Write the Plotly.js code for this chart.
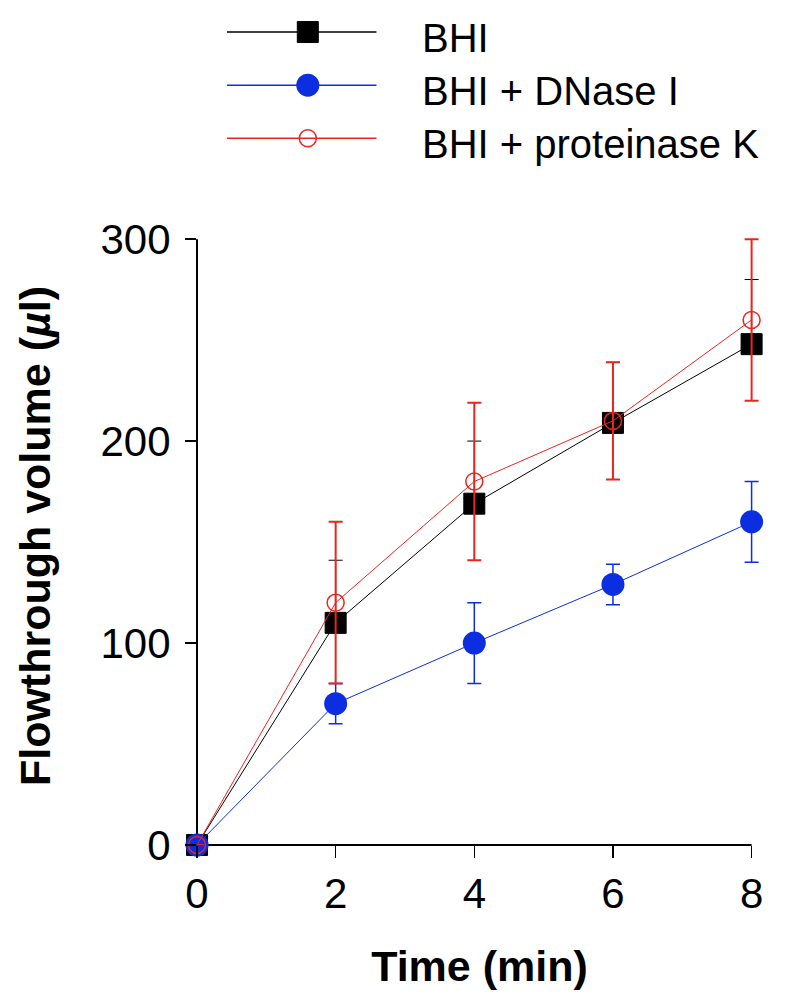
<!DOCTYPE html>
<html><head><meta charset="utf-8">
<script src="https://cdn.plot.ly/plotly-3.0.1.min.js"></script>
<style>html,body{margin:0;padding:0;background:#fff}</style>
</head><body><div id="chart" style="width:795px;height:1008px"></div>
<script>
// ---- data ----
const timeMin = [0, 2, 4, 6, 8];
const seriesNames = ['BHI', 'BHI + DNase I', 'BHI + proteinase K'];
const bhiMean = [0, 110, 169, 209, 248];
const bhiErrUp = [0, 31, 31, 30, 32];
const bhiErrDown = [0, 0, 0, 0, 0];
const dnaseMean = [0, 70, 100, 129, 160];
const dnaseErr = [0, 10, 20, 10, 20];
const protKMean = [0, 120, 180, 210, 260];
const protKErr = [0, 40, 39, 29, 40];
const xTickVals = [0, 2, 4, 6, 8];
const yTickVals = [0, 100, 200, 300];
const xTitle = 'Time (min)';
const yTitle = 'Flowthrough volume (<i>µ</i>l)';

// ---- styles ----
const styles = [
  {color: '#000000', symbol: 'square', size: 21, fill: '#000000', lw: 1, et: 1},
  {color: '#0a2ee0', symbol: 'circle', size: 23, fill: '#0a2ee0', lw: 0, et: 1.5},
  {color: '#e8261e', symbol: 'circle-open', size: 17, fill: '#e8261e', lw: 1.5, et: 2}
];
const means = [bhiMean, dnaseMean, protKMean];
const errUp = [bhiErrUp, dnaseErr, protKErr];
const errDown = [bhiErrDown, dnaseErr, protKErr];
const FONT = 'Liberation Sans, Arial, sans-serif';

const traces = [];
means.forEach((m, i) => {
  const s = styles[i];
  traces.push({
    x: timeMin, y: m, type: 'scatter', mode: 'lines+markers',
    name: seriesNames[i], showlegend: false, cliponaxis: false,
    line: {color: s.color, width: 1},
    marker: {symbol: s.symbol, size: s.size, color: s.fill, line: {color: s.color, width: s.lw}},
    error_y: {type: 'data', symmetric: false, array: errUp[i], arrayminus: errDown[i], visible: true,
              color: s.color, thickness: s.et, width: 7}
  });
});

// custom legend drawn on hidden helper axes
const legendRows = [3, 2, 1];
const annotations = [];
means.forEach((m, i) => {
  const s = styles[i];
  traces.push({
    x: [0, 2], y: [legendRows[i], legendRows[i]], xaxis: 'x2', yaxis: 'y2',
    type: 'scatter', mode: 'lines', showlegend: false, hoverinfo: 'skip',
    line: {color: s.color, width: 1.5}
  });
  traces.push({
    x: [1.08], y: [legendRows[i]], xaxis: 'x2', yaxis: 'y2',
    type: 'scatter', mode: 'markers', showlegend: false, hoverinfo: 'skip', cliponaxis: false,
    marker: {symbol: s.symbol, size: s.size, color: s.fill, line: {color: s.color, width: s.lw}}
  });
  annotations.push({
    xref: 'paper', yref: 'y2', x: 0.4018 * 555 / 565.4, y: legendRows[i], xanchor: 'left', yanchor: 'middle',
    yshift: -6, text: seriesNames[i], showarrow: false,
    font: {family: FONT, size: 40, color: '#000'}
  });
});

const xMax = xTickVals[xTickVals.length - 1];
const yMax = yTickVals[yTickVals.length - 1];

const layout = {
  width: 795, height: 1008,
  margin: {l: 197, r: 33, t: 10, b: 163},
  paper_bgcolor: '#fff', plot_bgcolor: '#fff',
  showlegend: false,
  font: {family: FONT, color: '#000'},
  xaxis: {
    range: [0, 8.15], tickvals: xTickVals, ticktext: xTickVals.map(String),
    showline: false, ticks: 'outside', ticklen: 12, tickwidth: 1.5, tickcolor: '#000',
    showgrid: false, zeroline: false, tickfont: {family: FONT, size: 42, color: '#000'},
    title: {text: '<b>' + xTitle + '</b>', font: {family: FONT, size: 43, color: '#000'}, standoff: 34},
    anchor: 'y'
  },
  yaxis: {
    domain: [0, 0.7401], range: [0, 306], tickvals: yTickVals, ticktext: yTickVals.map(String),
    showline: false, ticks: 'outside', ticklen: 11, tickwidth: 1.5, tickcolor: '#000',
    showgrid: false, zeroline: false, tickfont: {family: FONT, size: 42, color: '#000'},
    ticklabelstandoff: 6,
    title: {text: '<b>' + yTitle + '</b>', font: {family: FONT, size: 43, color: '#000'}, standoff: 36},
    anchor: 'x'
  },
  xaxis2: {domain: [0.054 * 555 / 565.4, 0.324 * 555 / 565.4], range: [0, 2], visible: false, anchor: 'y2', fixedrange: true},
  yaxis2: {domain: [0.808, 1], range: [0.396, 3.415], visible: false, anchor: 'x2', fixedrange: true},
  shapes: [
    {type: 'line', xref: 'x', yref: 'paper', x0: 0, x1: xMax, y0: 0, y1: 0, layer: 'below', line: {color: '#000', width: 2}},
    {type: 'line', xref: 'paper', yref: 'y', x0: 0, x1: 0, y0: 0, y1: yMax, layer: 'below', line: {color: '#000', width: 2}}
  ],
  annotations: annotations
};

Plotly.newPlot('chart', traces, layout, {displayModeBar: false, staticPlot: true});
</script>
</body></html>
